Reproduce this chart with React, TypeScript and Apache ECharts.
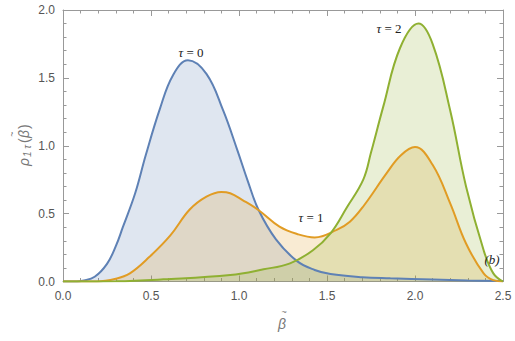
import React, { useEffect, useRef } from "react";
import * as echarts from "echarts";

const xTicks = [0, 0.5, 1.0, 1.5, 2.0, 2.5];
const yTicks = [0, 0.5, 1.0, 1.5, 2.0];

const blueX = [0, 0.08, 0.11, 0.18, 0.25, 0.3, 0.34, 0.41, 0.47, 0.55, 0.625, 0.71, 0.815, 0.91, 0.99, 1.05, 1.11, 1.21, 1.33, 1.43, 1.52, 1.7, 1.86, 2.1, 2.3, 2.5];
const blueY = [0, 0, 0.005, 0.035, 0.13, 0.26, 0.4, 0.65, 0.93, 1.27, 1.52, 1.63, 1.53, 1.26, 0.97, 0.74, 0.53, 0.31, 0.15, 0.085, 0.055, 0.032, 0.024, 0.015, 0.008, 0.003];

const orangeX = [0, 0.19, 0.3, 0.38, 0.49, 0.61, 0.72, 0.815, 0.9, 0.95, 1.02, 1.11, 1.23, 1.33, 1.43, 1.555, 1.63, 1.71, 1.84, 1.92, 2.0, 2.1, 2.2, 2.29, 2.39, 2.445, 2.5];
const orangeY = [0, 0, 0.02, 0.06, 0.18, 0.34, 0.53, 0.625, 0.66, 0.65, 0.6, 0.527, 0.404, 0.35, 0.325, 0.38, 0.44, 0.56, 0.8, 0.93, 0.99, 0.86, 0.576, 0.28, 0.06, 0.01, 0];

const greenX = [0, 0.3, 0.57, 0.95, 1.14, 1.29, 1.42, 1.52, 1.61, 1.706, 1.75, 1.82, 1.915, 2.02, 2.1, 2.2, 2.29, 2.39, 2.445, 2.5];
const greenY = [0, 0.002, 0.016, 0.048, 0.09, 0.134, 0.23, 0.355, 0.54, 0.75, 0.95, 1.29, 1.72, 1.9, 1.75, 1.26, 0.7, 0.23, 0.06, 0];

const seriesDefs = [
  { name: "τ = 0", xs: blueX, ys: blueY, color: "#5e81b5" },
  { name: "τ = 1", xs: orangeX, ys: orangeY, color: "#e19c24" },
  { name: "τ = 2", xs: greenX, ys: greenY, color: "#8fb032" },
];

const frameColor = "#999999";
const labelColor = "#555555";
const sans = "Liberation Sans, Arial, sans-serif";
const serif = "Liberation Serif, Times New Roman, serif";

const xMin = xTicks[0];
const xMax = xTicks[xTicks.length - 1];
const yMin = yTicks[0];
const yMax = yTicks[yTicks.length - 1];

function frameAxis(showLabels: boolean, onZeroIdx: number) {
  return {
    type: "value",
    interval: 0.5,
    axisLine: { show: true, onZero: true, onZeroAxisIndex: onZeroIdx, lineStyle: { color: frameColor } },
    axisTick: { show: true, inside: true, length: 6, lineStyle: { color: frameColor, width: 1 } },
    minorTick: { show: true, splitNumber: 5, length: 3.5, lineStyle: { color: frameColor, width: 1 } },
    splitLine: { show: false },
    axisLabel: {
      show: showLabels,
      color: labelColor,
      fontSize: 12,
      fontFamily: sans,
      margin: 8,
      formatter: (v: number) => v.toFixed(1),
    },
  };
}

function tauLabel(x: number, y: number, n: string) {
  return {
    type: "text",
    x,
    y,
    z: 100,
    style: {
      text: "{i|τ} = " + n,
      align: "center",
      verticalAlign: "middle",
      font: `13px ${serif}`,
      fill: "#222",
      rich: { i: { fontStyle: "italic", fontFamily: serif, fontSize: 13, fill: "#222" } },
    },
  };
}

export default function App() {
  const ref = useRef<HTMLDivElement>(null);
  useEffect(() => {
    if (!ref.current) return;
    const chart = echarts.init(ref.current, undefined, { renderer: "svg" });
    const axisLabelFont = `italic 14px ${sans}`;
    chart.setOption({
      animation: false,
      grid: { left: 63, right: 12, top: 10, bottom: 59.5 },
      xAxis: [
        { ...frameAxis(true, 0), position: "bottom", min: xMin, max: xMax },
        { ...frameAxis(false, 2), position: "top", min: xMin, max: xMax },
        { type: "value", show: false, min: -xMax, max: 0, axisLine: { onZero: false } },
      ],
      yAxis: [
        { ...frameAxis(true, 0), position: "left", min: yMin, max: yMax },
        { ...frameAxis(false, 2), position: "right", min: yMin, max: yMax },
        { type: "value", show: false, min: -yMax, max: 0, axisLine: { onZero: false } },
      ],
      series: seriesDefs.map((s) => ({
        type: "line",
        name: s.name,
        xAxisIndex: 0,
        yAxisIndex: 0,
        data: s.xs.map((x, i) => [x, s.ys[i]]),
        smooth: 0.4,
        showSymbol: false,
        symbol: "none",
        lineStyle: { color: s.color, width: 2 },
        itemStyle: { color: s.color },
        areaStyle: { color: s.color, opacity: 0.2, origin: "start" },
      })),
      graphic: [
        tauLabel(191, 52, "0"),
        tauLabel(311, 217, "1"),
        tauLabel(389, 28, "2"),
        {
          type: "text",
          x: 492,
          y: 259,
          z: 100,
          style: {
            text: "(b)",
            align: "center",
            verticalAlign: "middle",
            font: `italic 13px ${serif}`,
            fill: "#222",
          },
        },
        {
          type: "group",
          x: 282,
          y: 324,
          children: [
            { type: "text", x: 0, y: 0, style: { text: "β", align: "center", verticalAlign: "middle", font: axisLabelFont, fill: "#777" } },
            { type: "text", x: 2, y: -12.5, style: { text: "~", align: "center", verticalAlign: "middle", font: `9px ${sans}`, fill: "#777" } },
          ],
        },
        {
          type: "group",
          x: 24,
          y: 144,
          rotation: Math.PI / 2,
          children: [
            { type: "text", x: -22, y: 0, style: { text: "ρ", align: "left", verticalAlign: "middle", font: axisLabelFont, fill: "#777" } },
            { type: "text", x: -13, y: 3, style: { text: "1 τ", align: "left", verticalAlign: "middle", font: `italic 10px ${sans}`, fill: "#777" } },
            { type: "text", x: 1, y: 0, style: { text: "(", align: "left", verticalAlign: "middle", font: `14px ${sans}`, fill: "#777" } },
            { type: "text", x: 6, y: 0, style: { text: "β", align: "left", verticalAlign: "middle", font: axisLabelFont, fill: "#777" } },
            { type: "text", x: 10, y: -12.5, style: { text: "~", align: "center", verticalAlign: "middle", font: `9px ${sans}`, fill: "#777" } },
            { type: "text", x: 15, y: 0, style: { text: ")", align: "left", verticalAlign: "middle", font: `14px ${sans}`, fill: "#777" } },
          ],
        },
      ],
    });
    return () => chart.dispose();
  }, []);
  return <div ref={ref} style={{ position: "absolute", left: 0, top: 0, width: 515, height: 341 }} />;
}
